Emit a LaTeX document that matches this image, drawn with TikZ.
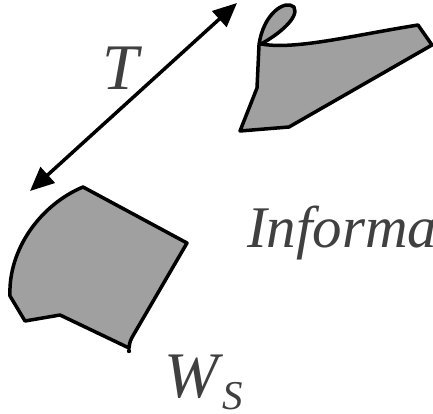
\documentclass[tikz,border=0pt]{standalone}
\usepackage{fontspec}
\setmainfont{Liberation Serif}
\usetikzlibrary{arrows.meta}
\definecolor{shapefill}{HTML}{A0A0A0}
\definecolor{txt}{HTML}{404040}
\tikzset{
  blob/.style={draw=black, fill=shapefill, line width=3.5pt, line join=round},
  lab/.style={inner sep=0pt, text=txt, font=\itshape},
  dblarrow/.style={line width=3.5pt, {Triangle[length=24pt,width=21pt]}-{Triangle[length=24pt,width=21pt]}}
}
\begin{document}
\begin{tikzpicture}[x=1pt,y=-1pt]
\useasboundingbox (0,0) rectangle (433,414);
\clip (0,0) rectangle (433,414);
% top-right shape
\draw[blob] (259,45) .. controls (263,14) and (285,-1) .. (294,7)
  .. controls (300,18) and (276,36) .. (261,44)
  .. controls (295,50) and (350,36) .. (418,25)
  -- (432,45) -- (289,127) -- (240,131) -- (257,88) -- cycle;
% bottom-left shape
\draw[blob] (83,187) -- (187,243) -- (134,334) .. controls (130,341) .. (129,348)
  -- (60,315) -- (25,321) -- (10,296)
  .. controls (8,250) and (40,205) .. (83,187) -- cycle;
\fill (129,351) circle (2.2);
% arrow
\coordinate (a1) at (30,191);
\coordinate (a2) at (237,3);
\draw[dblarrow] (a1) -- (a2);
% labels
\node[lab, font=\fontsize{65}{65}\selectfont\itshape, anchor=base] (t) at (121,90) {T};
\node[lab, font=\fontsize{59}{59}\selectfont\itshape, anchor=base west] (info) at (247,247) {Information};
\node[lab, font=\fontsize{65}{65}\selectfont\itshape, anchor=base west] (w) at (164,397) {W};
\node[lab, font=\fontsize{41}{41}\selectfont\itshape, anchor=base west] (s) at (222,409) {S};
\end{tikzpicture}
\end{document}
